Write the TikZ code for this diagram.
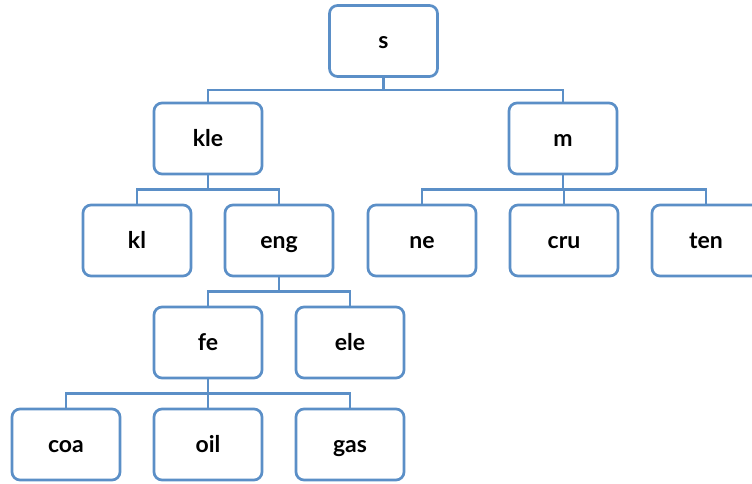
\documentclass[tikz,border=0pt]{standalone}
\usepackage{fontspec}
\setmainfont{Lato}
\usetikzlibrary{calc}
\definecolor{boxblue}{HTML}{5B8FC7}
\tikzset{
  tbox/.style={draw=boxblue, line width=2.7pt, rounded corners=8pt, fill=white,
    minimum width=108pt, minimum height=71pt, inner sep=0pt,
    text height=16pt, text depth=1pt,
    font=\fontsize{23}{26}\selectfont\bfseries, text=black},
  link/.style={draw=boxblue, line width=2.7pt},
}
\begin{document}
\begin{tikzpicture}[x=1pt, y=-1pt]
\useasboundingbox (0,0) rectangle (752,483);
% top level
\node[tbox] (s)   at (383.5,41)  {s};
% second level
\node[tbox] (kle) at (208,138.5) {kle};
\node[tbox] (m)   at (563,138.5) {m};
% third level
\node[tbox] (kl)  at (137,240.5) {kl};
\node[tbox] (eng) at (279,240.5) {eng};
\node[tbox] (ne)  at (422,240.5) {ne};
\node[tbox] (cru) at (564,240.5) {cru};
\node[tbox] (ten) at (706,240.5) {ten};
% fourth level
\node[tbox] (fe)  at (208,342.5) {fe};
\node[tbox] (ele) at (350,342.5) {ele};
% fifth level
\node[tbox] (coa) at (66,444.5)  {coa};
\node[tbox] (oil) at (208,444.5) {oil};
\node[tbox] (gas) at (350,444.5) {gas};
% elbow connectors through a shared bus line
\foreach \p/\c/\h in {s/kle/12, s/m/12,
                      kle/kl/14, kle/eng/14,
                      m/ne/14, m/cru/14, m/ten/14,
                      eng/fe/14, eng/ele/14,
                      fe/coa/14, fe/oil/14, fe/gas/14}
  \draw[link] (\p.south) -- ++(0,\h) -| (\c.north);
\end{tikzpicture}
\end{document}
